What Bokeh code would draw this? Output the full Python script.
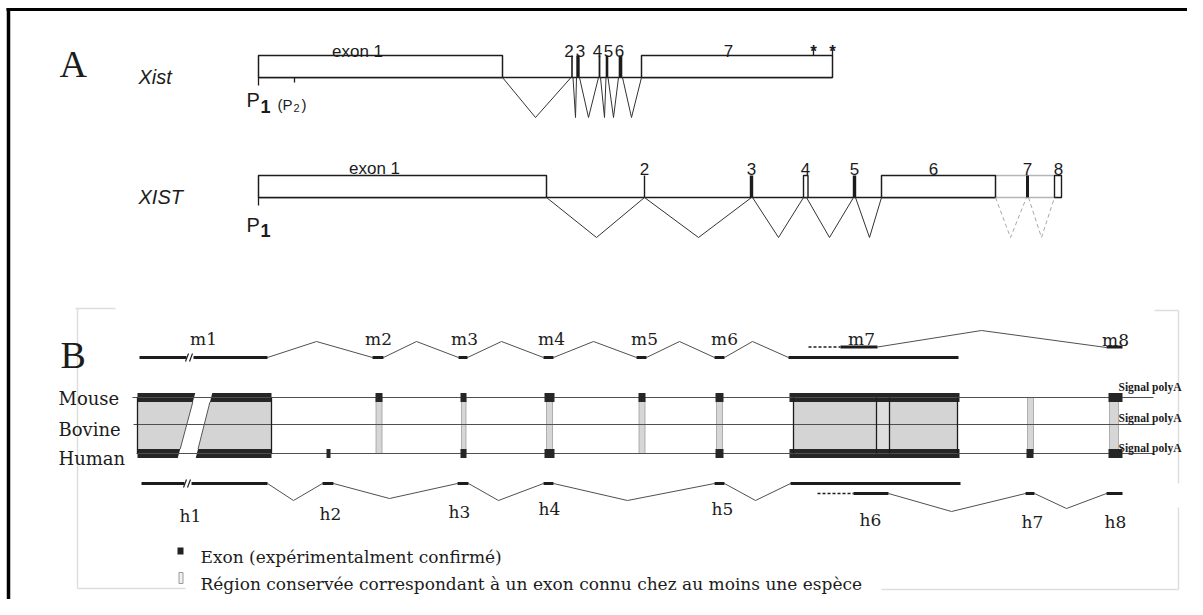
from bokeh.plotting import figure
from bokeh.models import Range1d
from bokeh.embed import file_html
from bokeh.resources import INLINE
from bokeh.core.properties import value

# ====================== DATA ======================
# ---- Panel A: mouse Xist (positions along the drawing) ----
xist_box_start = [258, 641]
xist_box_end = [502, 832]
xist_box_label = ["exon 1", "7"]
xist_box_label_x = [357, 728]
xist_bar_x = [571.5, 577.5, 599, 606.5, 620]
xist_bar_w = [1.6, 3.4, 1.8, 2.6, 3.6]
xist_bar_label = ["2", "3", "4", "5", "6"]
xist_bar_label_x = [568.5, 580, 597, 608, 619]
xist_splice_from = [502, 572.5, 579, 600, 607.5, 622]
xist_splice_mid = [535, 575, 588, 604, 613, 631]
xist_splice_to = [570.5, 576, 598, 605.5, 618, 641]
xist_star_x = [813, 832]
xist_prom_x = [258, 294]
xist_prom_len = [8, 5]

# ---- Panel A: human XIST ----
hx_box_start = [258, 881]
hx_box_end = [546, 995]
hx_box_label = ["exon 1", "6"]
hx_box_label_x = [374, 933]
hx_bar_x = [644, 751, 854, 1027]
hx_bar_w = [1.4, 3.4, 3.4, 3.0]
hx_open_start = [803, 1054]
hx_open_end = [807.5, 1061]
hx_num_label = ["2", "3", "4", "5", "7", "8"]
hx_num_label_x = [644, 751, 805, 854, 1027, 1058]
hx_splice_from = [546, 644, 752, 806, 855]
hx_splice_mid = [596, 698, 778, 829, 869]
hx_splice_to = [644, 751, 803, 853, 881]
hx_alt_from = [995, 1028]
hx_alt_mid = [1010, 1041]
hx_alt_to = [1026, 1054]
hx_utr_start, hx_utr_end = 995, 1061

# ---- Panel B: alignment ----
species = ["Mouse", "Bovine", "Human"]
block_start = [137, 793]
block_end = [271, 957]
block_cap_start = [137, 789]
block_cap_end = [271, 959]
block_inner_x = [876, 889]
break_top = [195, 212]
break_bottom = [177, 195]
mouse_mark_start = [375, 460, 544, 638, 715, 1108]
mouse_mark_end = [382, 466, 554, 645, 723, 1122]
human_mark_start = [326, 460, 544, 715, 1026, 1108]
human_mark_end = [330, 466, 554, 723, 1033, 1122]
cons_start = [375.5, 461, 546, 638.5, 716, 1027, 1109]
cons_end = [381.5, 465.5, 552, 644.5, 722, 1033, 1118]

# mouse transcript (row 0 = main, row 1 = alternative end)
m_exon_start = [139, 372, 458, 543, 636, 714, 788, 840, 1106]
m_exon_end = [267, 383, 467, 553, 646, 724, 958, 877, 1122]
m_exon_row = [0, 0, 0, 0, 0, 0, 0, 1, 1]
m_intron_from = [267, 383, 467, 553, 646, 724, 877]
m_intron_peak = [316, 416, 501, 593, 679, 752, 981]
m_intron_to = [372, 458, 543, 636, 714, 788, 1106]
m_intron_row = [0, 0, 0, 0, 0, 0, 1]
m_dash = [808, 840]
m_label = ["m1", "m2", "m3", "m4", "m5", "m6", "m7", "m8"]
m_label_x = [203, 378, 464, 551, 644, 724, 861, 1115]

# human transcript
h_exon_start = [141, 322, 457, 543, 714, 790, 853, 1025, 1106]
h_exon_end = [267, 333, 468, 553, 724, 960, 888, 1034, 1122]
h_exon_row = [0, 0, 0, 0, 0, 0, 1, 1, 1]
h_intron_from = [267, 333, 468, 553, 724, 888, 1034]
h_intron_low = [293, 389, 498, 627, 755, 951, 1066]
h_intron_to = [322, 457, 543, 714, 790, 1025, 1106]
h_intron_row = [0, 0, 0, 0, 0, 1, 1]
h_intron_depth = [17, 15, 17, 17, 17, 18, 15]
h_dash = [817, 853]
h_label = ["h1", "h2", "h3", "h4", "h5", "h6", "h7", "h8"]
h_label_x = [190, 330, 459, 549, 722, 870, 1032, 1115]
h_label_base = [515, 513, 511, 508, 508, 519, 521, 521]

legend_text = ["Exon (expérimentalment confirmé)",
               "Région conservée correspondant à un exon connu chez au moins une espèce"]

# ====================== STYLE / LAYOUT ======================
INK = "#1c1c1c"
GREY_LINE = "#505050"
FILL = "#d4d4d4"
SANS = value("Liberation Sans")
SERIF = value("DejaVu Serif")
BIG_SERIF = value("Liberation Serif")

AM_TOP, AM_BASE, AM_LOW = 55, 77, 117
AH_TOP, AH_BASE, AH_LOW = 175, 197, 237
TRACK_Y = [397, 424, 453]
SPECIES_BASE = [398, 429, 458]
CAP = 4.5
M_ROW_Y = [357, 346.5]
M_PEAK_Y = [341, 330]
H_ROW_Y = [483, 493]

p = figure(width=1187, height=599, x_range=Range1d(0, 1187), y_range=Range1d(599, 0),
           output_backend="svg", toolbar_location=None, x_axis_type=None, y_axis_type=None,
           min_border=0, outline_line_color=None, background_fill_color="white",
           border_fill_color="white")
p.grid.grid_line_color = None


def texts(xs, ys, labels, font, size, style="normal", align="left", color=INK):
    p.text(x=xs, y=ys, text=labels, text_font=font, text_font_size=f"{size}px",
           text_font_style=style, text_align=align, text_baseline="alphabetic",
           text_color=color)


# ---- frame ----
p.segment(x0=[6], y0=[9], x1=[1187], y1=[9], line_color="black", line_width=3)
p.segment(x0=[8], y0=[7.5], x1=[8], y1=[599], line_color="black", line_width=3.5)
fx0 = [77, 75, 77, 881, 1178, 1178, 1154]
fy0 = [308, 308, 588, 589, 310, 507, 310]
fx1 = [77, 115, 185, 1178, 1178, 1178, 1178]
fy1 = [588, 308, 588, 589, 483, 589, 310]
p.segment(x0=fx0, y0=fy0, x1=fx1, y1=fy1, line_color="#dedede", line_width=1.5)

# ====================== PANEL A ======================
texts([59], [63], ["A"], BIG_SERIF, 38)
texts([60], [354], ["B"], BIG_SERIF, 38)
texts([138, 138], [76, 196], ["Xist", "XIST"], SANS, 20, style="italic")

# mouse Xist
p.segment(x0=[xist_box_start[0]], y0=[AM_BASE], x1=[xist_box_end[-1]], y1=[AM_BASE],
          line_color=INK, line_width=1.6)
p.quad(left=xist_box_start, right=xist_box_end, top=AM_TOP, bottom=AM_BASE,
       fill_color="white", line_color=INK, line_width=1.5)
p.quad(left=[x - w / 2 for x, w in zip(xist_bar_x, xist_bar_w)],
       right=[x + w / 2 for x, w in zip(xist_bar_x, xist_bar_w)],
       top=AM_TOP, bottom=AM_BASE, fill_color=INK, line_color=None)
p.multi_line(xs=[[a, b, c] for a, b, c in zip(xist_splice_from, xist_splice_mid, xist_splice_to)],
             ys=[[AM_BASE, AM_LOW, AM_BASE]] * len(xist_splice_from),
             line_color="#333333", line_width=1)
texts(xist_box_label_x, [51, 50], xist_box_label, SANS, 17, align="center")
texts(xist_bar_label_x, [50] * 5, xist_bar_label, SANS, 17, align="center")
p.segment(x0=xist_star_x, y0=[49, 49], x1=xist_star_x, y1=[AM_TOP, AM_TOP],
          line_color=INK, line_width=1.3)
texts(xist_star_x, [51, 51], ["*", "*"], SANS, 17, style="bold", align="center")
p.segment(x0=xist_prom_x, y0=[AM_BASE] * 2, x1=xist_prom_x,
          y1=[AM_BASE + d for d in xist_prom_len], line_color=INK, line_width=1.3)
texts([246, 246], [99, 224], ["P", "P"], SANS, 20)
texts([260, 260], [106, 230], ["1", "1"], SANS, 18, style="bold")
texts([277, 301], [104, 104], ["(P", ")"], SANS, 15)
texts([293], [107], ["2"], SANS, 11)

# human XIST
p.segment(x0=[hx_box_start[0]], y0=[AH_BASE], x1=[hx_utr_start], y1=[AH_BASE],
          line_color=INK, line_width=1.6)
p.segment(x0=[hx_utr_start, hx_utr_start], y0=[AH_BASE, AH_TOP],
          x1=[hx_utr_end, hx_open_start[1]], y1=[AH_BASE, AH_TOP],
          line_color="#b5b5b5", line_width=1.5)
p.quad(left=hx_box_start, right=hx_box_end, top=AH_TOP, bottom=AH_BASE,
       fill_color="white", line_color=INK, line_width=1.5)
p.quad(left=[x - w / 2 for x, w in zip(hx_bar_x, hx_bar_w)],
       right=[x + w / 2 for x, w in zip(hx_bar_x, hx_bar_w)],
       top=AH_TOP, bottom=AH_BASE, fill_color=INK, line_color=None)
p.quad(left=hx_open_start, right=hx_open_end, top=AH_TOP, bottom=AH_BASE,
       fill_color="white", line_color=INK, line_width=1.4)
p.multi_line(xs=[[a, b, c] for a, b, c in zip(hx_splice_from, hx_splice_mid, hx_splice_to)],
             ys=[[AH_BASE, AH_LOW, AH_BASE]] * len(hx_splice_from),
             line_color="#333333", line_width=1)
p.multi_line(xs=[[a, b, c] for a, b, c in zip(hx_alt_from, hx_alt_mid, hx_alt_to)],
             ys=[[AH_BASE, AH_LOW, AH_BASE]] * len(hx_alt_from),
             line_color="#a8a8a8", line_width=1, line_dash="4 3")
texts(hx_box_label_x, [168, 168], hx_box_label, SANS, 17, align="center")
texts(hx_num_label_x, [168] * 6, hx_num_label, SANS, 17, align="center")
p.segment(x0=[hx_box_start[0]], y0=[AH_BASE], x1=[hx_box_start[0]], y1=[AH_BASE + 8],
          line_color=INK, line_width=1.3)

# ====================== PANEL B ======================
# grey conserved blocks
p.quad(left=block_start, right=block_end, top=TRACK_Y[0], bottom=TRACK_Y[2],
       fill_color=FILL, line_color=None)
p.quad(left=[block_inner_x[0]], right=[block_inner_x[1]], top=TRACK_Y[0], bottom=TRACK_Y[2],
       fill_color="#dedede", line_color=None)
p.quad(left=cons_start, right=cons_end, top=TRACK_Y[0], bottom=TRACK_Y[2],
       fill_color="#d6d6d6", line_color="#a0a0a0", line_width=0.8)
# black caps of the big blocks
p.quad(left=block_cap_start, right=block_cap_end, top=TRACK_Y[0] - CAP, bottom=TRACK_Y[0] + CAP,
       fill_color="#262626", line_color=None)
p.quad(left=block_cap_start, right=block_cap_end, top=TRACK_Y[2] - CAP, bottom=TRACK_Y[2] + CAP,
       fill_color="#262626", line_color=None)
# break in exon 1 (white slanted gap)
gt, gb = TRACK_Y[0] - CAP - 1, TRACK_Y[2] + CAP + 1
p.patch(x=[break_top[0], break_top[1], break_bottom[1], break_bottom[0]],
        y=[gt, gt, gb, gb], fill_color="white", line_color=None)
# species track lines
p.segment(x0=[132, 133, 136], y0=TRACK_Y, x1=[1153] * 3, y1=TRACK_Y,
          line_color=GREY_LINE, line_width=1.2)
# small exon marks
p.quad(left=mouse_mark_start, right=mouse_mark_end, top=TRACK_Y[0] - CAP, bottom=TRACK_Y[0] + CAP,
       fill_color="#262626", line_color=None)
p.quad(left=human_mark_start, right=human_mark_end, top=TRACK_Y[2] - CAP, bottom=TRACK_Y[2] + CAP,
       fill_color="#262626", line_color=None)
# outlines of big blocks
vx = [block_start[0], block_end[0], block_start[1], block_end[1]] + block_inner_x
p.segment(x0=vx, y0=[TRACK_Y[0]] * 6, x1=vx, y1=[TRACK_Y[2]] * 6, line_color=INK, line_width=1.3)


def slant(x_top, x_bot, y):
    t = (y - gt) / (gb - gt)
    return x_top + (x_bot - x_top) * t


p.segment(x0=[slant(break_top[0], break_bottom[0], TRACK_Y[0] + CAP),
              slant(break_top[1], break_bottom[1], TRACK_Y[0] + CAP)],
          y0=[TRACK_Y[0] + CAP] * 2,
          x1=[slant(break_top[0], break_bottom[0], TRACK_Y[2] - CAP),
              slant(break_top[1], break_bottom[1], TRACK_Y[2] - CAP)],
          y1=[TRACK_Y[2] - CAP] * 2, line_color="#555555", line_width=1)

texts([58] * 3, SPECIES_BASE, species, SERIF, 18)
texts([1118] * 3, [386, 417, 447], ["Signal polyA"] * 3, BIG_SERIF, 11.5, style="bold")

# mouse transcript
p.multi_line(xs=[[a, b, c] for a, b, c in zip(m_intron_from, m_intron_peak, m_intron_to)],
             ys=[[M_ROW_Y[r], M_PEAK_Y[r], M_ROW_Y[r] + (0.5 if r else 0)] for r in m_intron_row],
             line_color=GREY_LINE, line_width=1)
p.segment(x0=m_exon_start, y0=[M_ROW_Y[r] for r in m_exon_row], x1=m_exon_end,
          y1=[M_ROW_Y[r] for r in m_exon_row], line_color=INK, line_width=3)
p.segment(x0=[m_dash[0]], y0=[M_ROW_Y[1]], x1=[m_dash[1]], y1=[M_ROW_Y[1]],
          line_color=INK, line_width=1.5, line_dash="3 2")
texts(m_label_x, [338] * 7 + [339], m_label, SERIF, 17, align="center")

# human transcript
p.multi_line(xs=[[a, b, c] for a, b, c in zip(h_intron_from, h_intron_low, h_intron_to)],
             ys=[[H_ROW_Y[r], H_ROW_Y[r] + d, H_ROW_Y[r]] for r, d in zip(h_intron_row, h_intron_depth)],
             line_color=GREY_LINE, line_width=1)
p.segment(x0=h_exon_start, y0=[H_ROW_Y[r] for r in h_exon_row], x1=h_exon_end,
          y1=[H_ROW_Y[r] for r in h_exon_row], line_color=INK, line_width=3)
p.segment(x0=[h_dash[0]], y0=[H_ROW_Y[1]], x1=[h_dash[1]], y1=[H_ROW_Y[1]],
          line_color=INK, line_width=1.5, line_dash="3 2")
texts(h_label_x, h_label_base, h_label, SERIF, 17, align="center")

# "//" breaks on the exon 1 lines
bx = [189, 187]
by = [M_ROW_Y[0], H_ROW_Y[0]]
p.quad(left=[x - 3 for x in bx], right=[x + 4 for x in bx], top=[y - 2 for y in by],
       bottom=[y + 2 for y in by], fill_color="white", line_color=None)
p.segment(x0=[bx[0] - 4, bx[0], bx[1] - 4, bx[1]], y0=[by[0] + 4, by[0] + 4, by[1] + 4, by[1] + 4],
          x1=[bx[0] - 1, bx[0] + 3, bx[1] - 1, bx[1] + 3], y1=[by[0] - 4, by[0] - 4, by[1] - 4, by[1] - 4],
          line_color=INK, line_width=1.2)

# legend
p.quad(left=[177], right=[183], top=[547], bottom=[554], fill_color="#222222", line_color=None)
p.quad(left=[178.5], right=[182.5], top=[572], bottom=[583], fill_color="#f0f0f0",
       line_color="#9a9a9a", line_width=1)
texts([200, 200], [556, 583], legend_text, SERIF, 17)

open("out.html", "w").write(file_html(p, INLINE))
